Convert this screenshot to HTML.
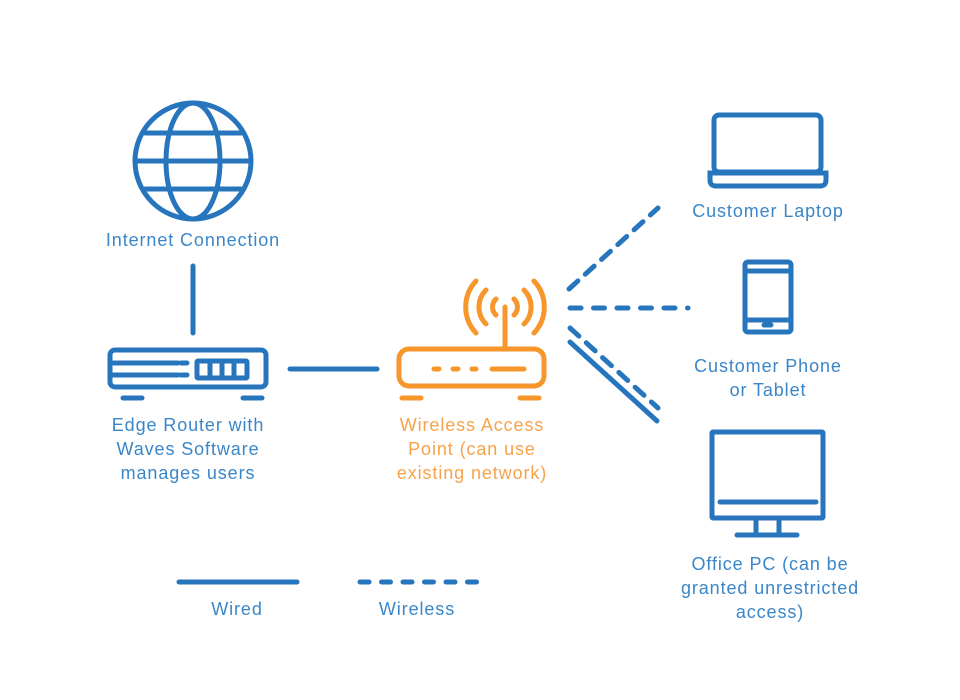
<!DOCTYPE html>
<html><head><meta charset="utf-8"><style>
html,body{margin:0;padding:0;background:#fff;}
svg{display:block;}
text{font-family:"Liberation Sans","DejaVu Sans",sans-serif;font-size:18px;text-anchor:middle;letter-spacing:0.9px;}
.b{fill:#3a86c9;}
.o{fill:#f7a24a;}
</style></head><body>
<svg width="960" height="700" viewBox="0 0 960 700" xmlns="http://www.w3.org/2000/svg">
<g fill="none" stroke="#2775bd" stroke-width="5" stroke-linecap="round">
  <circle cx="193" cy="161" r="58"/>
  <ellipse cx="193" cy="161" rx="27" ry="58"/>
  <line x1="145" y1="133" x2="241" y2="133"/>
  <line x1="136" y1="161" x2="250" y2="161"/>
  <line x1="145" y1="189" x2="241" y2="189"/>
  <line x1="193" y1="266" x2="193" y2="333"/>
  <rect x="110" y="350" width="156" height="37" rx="5"/>
  <line x1="113" y1="363" x2="178" y2="363"/>
  <line x1="113" y1="375" x2="178" y2="375"/>
  <line x1="181" y1="363" x2="187" y2="363"/>
  <line x1="181" y1="375" x2="187" y2="375"/>
  <rect x="197" y="361" width="50" height="17" rx="1"/>
  <line x1="210" y1="361" x2="210" y2="378"/>
  <line x1="222" y1="361" x2="222" y2="378"/>
  <line x1="234" y1="361" x2="234" y2="378"/>
  <line x1="123" y1="398" x2="142" y2="398"/>
  <line x1="243" y1="398" x2="262" y2="398"/>
  <line x1="290" y1="369" x2="377" y2="369"/>
  <rect x="714" y="115" width="107" height="57" rx="5"/>
  <path d="M710 173 H826 V180 Q826 186 820 186 H716 Q710 186 710 180 Z"/>
  <rect x="745" y="262" width="46" height="70" rx="3"/>
  <line x1="745" y1="271" x2="791" y2="271"/>
  <line x1="745" y1="320" x2="791" y2="320"/>
  <line x1="764" y1="325" x2="771" y2="325"/>
  <rect x="712" y="432" width="111" height="86" rx="1"/>
  <line x1="720" y1="502" x2="816" y2="502"/>
  <line x1="756" y1="518" x2="756" y2="533"/>
  <line x1="779" y1="518" x2="779" y2="533"/>
  <line x1="737" y1="535" x2="797" y2="535"/>
  <line x1="569" y1="289" x2="658" y2="208" stroke-dasharray="12 10"/>
  <line x1="570" y1="308" x2="688" y2="308" stroke-dasharray="11 12.5"/>
  <line x1="570" y1="328" x2="658" y2="408" stroke-dasharray="12 10"/>
  <line x1="570" y1="342" x2="657" y2="421"/>
  <line x1="179" y1="582" x2="297" y2="582"/>
  <line x1="360" y1="582" x2="478" y2="582" stroke-dasharray="9 12.5"/>
</g>
<g fill="none" stroke="#f7962a" stroke-width="5" stroke-linecap="round">
  <rect x="399" y="349" width="145" height="37" rx="10"/>
  <line x1="434" y1="369" x2="439" y2="369"/>
  <line x1="453" y1="369" x2="458" y2="369"/>
  <line x1="472" y1="369" x2="476" y2="369"/>
  <line x1="492" y1="369" x2="524" y2="369"/>
  <line x1="505" y1="307" x2="505" y2="348"/>
  <line x1="402" y1="398" x2="421" y2="398"/>
  <line x1="520" y1="398" x2="539" y2="398"/>
  <path d="M496 299 A11 11 0 0 0 496 315"/>
  <path d="M514 299 A11 11 0 0 1 514 315"/>
  <path d="M486 290 A24 24 0 0 0 486 324"/>
  <path d="M524 290 A24 24 0 0 1 524 324"/>
  <path d="M476 281 A38 38 0 0 0 476 333"/>
  <path d="M534 281 A38 38 0 0 1 534 333"/>
</g>
<text class="b" x="193" y="246">Internet Connection</text>
<text class="b" x="188" y="431">Edge Router with</text>
<text class="b" x="188" y="455">Waves Software</text>
<text class="b" x="188" y="479">manages users</text>
<text class="o" x="472" y="431">Wireless Access</text>
<text class="o" x="472" y="455">Point (can use</text>
<text class="o" x="472" y="479">existing network)</text>
<text class="b" x="768" y="217">Customer Laptop</text>
<text class="b" x="768" y="372">Customer Phone</text>
<text class="b" x="768" y="396">or Tablet</text>
<text class="b" x="770" y="570">Office PC (can be</text>
<text class="b" x="770" y="594">granted unrestricted</text>
<text class="b" x="770" y="618">access)</text>
<text class="b" x="237" y="615">Wired</text>
<text class="b" x="417" y="615">Wireless</text>
</svg>
</body></html>
